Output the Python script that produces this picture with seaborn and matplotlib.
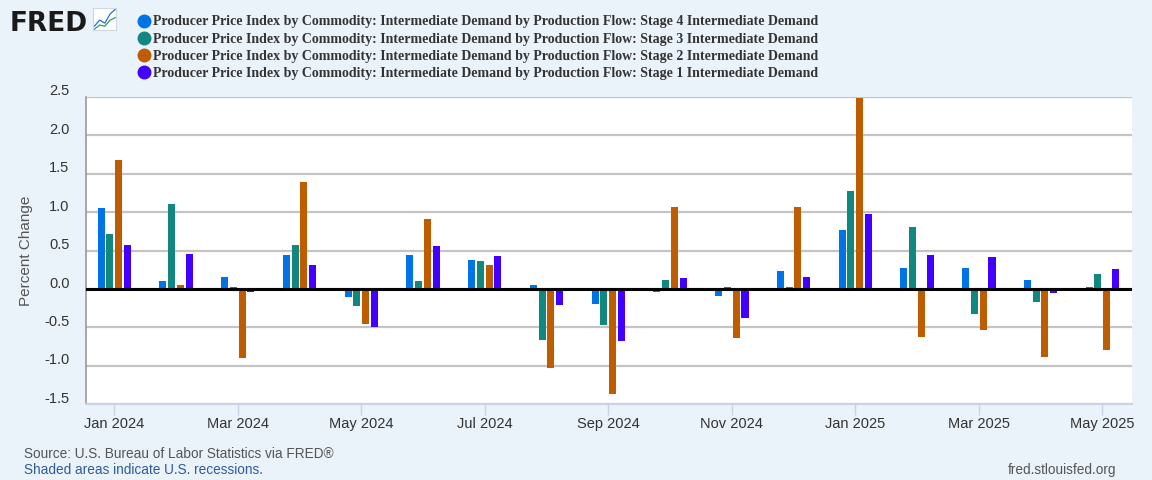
import numpy as np
import pandas as pd
import matplotlib
matplotlib.use('Agg')
import matplotlib.pyplot as plt
import matplotlib.transforms as mtransforms
from matplotlib.lines import Line2D
import seaborn as sns

# monthly percent change, Jan 2024 - May 2025
months = ['2024-01', '2024-02', '2024-03', '2024-04', '2024-05', '2024-06',
          '2024-07', '2024-08', '2024-09', '2024-10', '2024-11', '2024-12',
          '2025-01', '2025-02', '2025-03', '2025-04', '2025-05']
stage4 = [1.05, 0.10, 0.16, 0.44, -0.10, 0.44, 0.38, 0.05, -0.19, -0.04, -0.09, 0.24,
          0.77, 0.27, 0.27, 0.12, 0.03]
stage3 = [0.72, 1.10, 0.02, 0.57, -0.22, 0.10, 0.36, -0.67, -0.47, 0.12, 0.03, 0.02,
          1.28, 0.81, -0.33, -0.17, 0.19]
stage2 = [1.68, 0.05, -0.90, 1.39, -0.45, 0.91, 0.31, -1.03, -1.37, 1.06, -0.64, 1.07,
          2.48, -0.63, -0.54, -0.88, -0.80]
stage1 = [0.57, 0.45, -0.04, 0.31, -0.49, 0.56, 0.43, -0.21, -0.68, 0.14, -0.38, 0.16,
          0.97, 0.44, 0.41, -0.05, 0.26]

series_names = ['Stage 4', 'Stage 3', 'Stage 2', 'Stage 1']
series_values = [stage4, stage3, stage2, stage1]
colors = ['#0073E6', '#12877F', '#BD5C00', '#4400FF']
tick_labels = ['Jan 2024', 'Mar 2024', 'May 2024', 'Jul 2024', 'Sep 2024',
               'Nov 2024', 'Jan 2025', 'Mar 2025', 'May 2025']

rows = []
for name, vals in zip(series_names, series_values):
    for m, v in zip(months, vals):
        rows.append({'month': m, 'series': name, 'value': v})
df = pd.DataFrame(rows)

plt.rcParams['font.family'] = ['Liberation Sans', 'DejaVu Sans']

bg = '#EAF2FA'
fig = plt.figure(figsize=(11.52, 4.8), dpi=100, facecolor=bg)
ax = fig.add_axes([0.0749, 0.1577, 0.9077, 0.6408])
ax.set_facecolor('white')

sns.barplot(data=df, x='month', y='value', hue='series', order=months,
            hue_order=series_names, palette=colors, width=0.57, gap=0.2,
            saturation=1, legend=False, ax=ax)

ax.set_xlim(-0.453, 16.48)
ax.set_ylim(-1.5, 2.5)
ax.set_yticks(np.arange(-1.5, 2.51, 0.5))
ax.set_yticklabels([f'{t:.1f}' for t in np.arange(-1.5, 2.51, 0.5)])
ax.set_xticks(range(0, len(months), 2))
ax.set_xticklabels(tick_labels)

ax.grid(axis='y', color='#C4C4C4', linewidth=1.6)
ax.set_axisbelow(True)
ax.axhline(0, color='black', linewidth=2.2, zorder=5)

for s in ['top', 'right']:
    ax.spines[s].set_visible(False)
ax.spines['left'].set_color('#999999')
ax.spines['left'].set_linewidth(1.2)
ax.spines['bottom'].set_color('#C8D4E6')
ax.spines['bottom'].set_linewidth(1.5)

ax.tick_params(axis='y', length=0, pad=12, labelsize=10.5, labelcolor='#333333')
ax.tick_params(axis='x', length=8, color='#C8D4E6', width=1, pad=1,
               labelsize=10.5, labelcolor='#333333')
for lab in ax.get_yticklabels():
    lab.set_transform(lab.get_transform() + mtransforms.ScaledTranslation(0, 5 / 72, fig.dpi_scale_trans))

ax.set_xlabel('')
ax.set_ylabel('Percent Change', fontsize=11, color='#555555', labelpad=8)

# legend
handles = [Line2D([], [], marker='o', linestyle='', markersize=9, color=c) for c in colors]
labels = ['Producer Price Index by Commodity: Intermediate Demand by Production Flow: '
          f'{n} Intermediate Demand' for n in series_names]
leg = fig.legend(handles, labels, loc='upper left', bbox_to_anchor=(0.109, 0.991),
                 frameon=False, handletextpad=0.2, labelspacing=0.31,
                 prop={'family': 'Liberation Serif', 'weight': 'bold', 'size': 10.0},
                 handlelength=1.0, borderaxespad=0.4)
for t in leg.get_texts():
    t.set_color('#333333')

# FRED logo
fig.text(0.008, 0.935, 'FRED', fontsize=19, fontweight='heavy', color='#1a1a1a',
         family='DejaVu Sans')
icon = fig.add_axes([0.081, 0.937, 0.020, 0.046])
icon.set_facecolor('white')
icon.plot([0, 1, 2, 3, 4], [1, 2, 1.5, 3, 3.8], color='#2a6fd6', linewidth=0.9)
icon.plot([0, 1, 2, 3, 4], [0.5, 1.2, 1.0, 2.0, 2.4], color='#2a9d6a', linewidth=0.9)
icon.set_xticks([]); icon.set_yticks([])
for s in icon.spines.values():
    s.set_color('#d0d8e0')

# footer
fig.text(0.021, 0.045, 'Source: U.S. Bureau of Labor Statistics via FRED®', fontsize=9.8,
         color='#555555')
fig.text(0.021, 0.012, 'Shaded areas indicate U.S. recessions.', fontsize=9.8,
         color='#2F5B9A')
fig.text(0.969, 0.012, 'fred.stlouisfed.org', fontsize=9.8, color='#555555', ha='right')

fig.savefig('out.png', dpi=100, facecolor=bg)
